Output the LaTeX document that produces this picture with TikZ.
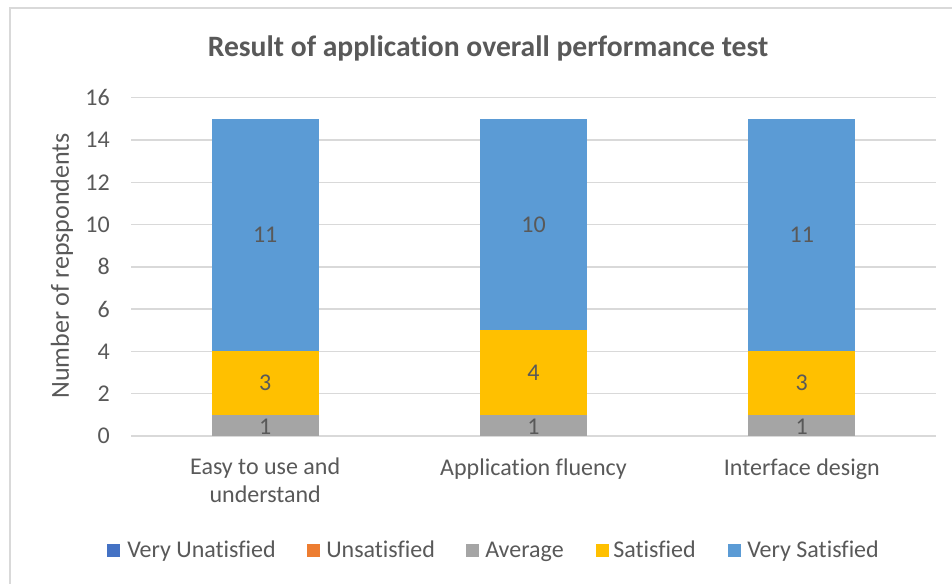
\documentclass[tikz,border=0pt]{standalone}
\usepackage{fontspec}
\setmainfont{Carlito}[Ligatures=NoCommon]
\definecolor{txt}{HTML}{595959}
\definecolor{gridc}{HTML}{D9D9D9}
\definecolor{cVU}{HTML}{4472C4}
\definecolor{cU}{HTML}{ED7D31}
\definecolor{cA}{HTML}{A5A5A5}
\definecolor{cS}{HTML}{FFC000}
\definecolor{cVS}{HTML}{5B9BD5}
\begin{document}
\begin{tikzpicture}[x=0.75pt,y=-0.75pt,
  bodyfont/.style={font=\fontsize{18}{21}\selectfont},
  lbl/.style={bodyfont, inner sep=0pt, text=txt},
  gridline/.style={draw=gridc, line width=1.1pt},
  legsq/.style={minimum width=9.75pt, minimum height=9.75pt, inner sep=0pt, draw=none}]
\useasboundingbox (0,0) rectangle (952,584);
\clip (0,0) rectangle (952,584);
\fill[white] (0,0) rectangle (952,584);
\draw[gridc, line width=1.1pt] (10,8) rectangle (990,620);
% title
\node[inner sep=0pt, text=txt, anchor=base, font=\fontsize{22.2}{26}\selectfont\bfseries] (title) at (488,57) {Result of application overall performance test};
% gridlines and tick labels
\foreach \k in {0,...,8} {
  \pgfmathtruncatemacro{\val}{2*\k}
  \draw[gridline] (131,{436-42.28*\k}) -- (936,{436-42.28*\k});
  \node[lbl, anchor=east] (tick\k) at (110,{436-42.28*\k}) {\val};
}
% axis title
\node[lbl, rotate=90, font=\fontsize{19.5}{23}\selectfont] (ytitle) at (62,266) {Number of repspondents};
% bars
\foreach \c/\n/\s/\v in {265.2/a/3/11, 533.5/b/4/10, 801.8/c/3/11} {
  \fill[cA] ({\c-53.5},436) rectangle ({\c+53.5},{436-21.14});
  \fill[cS] ({\c-53.5},{436-21.14}) rectangle ({\c+53.5},{436-21.14*(1+\s)});
  \fill[cVS] ({\c-53.5},{436-21.14*(1+\s)}) rectangle ({\c+53.5},{436-21.14*15});
  \node[lbl] (avg\n) at (\c,{436-21.14*0.5+1.5}) {1};
  \node[lbl] (sat\n) at (\c,{436-21.14*(1+\s/2)}) {\s};
  \node[lbl] (vsat\n) at (\c,{436-21.14*(1+\s+\v/2)}) {\v};
}
% category labels
\node[lbl, anchor=north, align=center] (cata) at (265.2,458) {Easy to use and\\understand};
\node[lbl, anchor=base] (catb) at (533.5,475) {Application fluency};
\node[lbl, anchor=base] (catc) at (801.8,475) {Interface design};
% legend
\node[legsq, fill=cVU] (lg1) at (113.5,550) {};
\node[lbl, anchor=base west] (lt1) at (127,557) {Very Unatisfied};
\node[legsq, fill=cU] (lg2) at (313.5,550) {};
\node[lbl, anchor=base west] (lt2) at (326,557) {Unsatisfied};
\node[legsq, fill=cA] (lg3) at (472.5,550) {};
\node[lbl, anchor=base west] (lt3) at (485,557) {Average};
\node[legsq, fill=cS] (lg4) at (602,550) {};
\node[lbl, anchor=base west] (lt4) at (613,557) {Satisfied};
\node[legsq, fill=cVS] (lg5) at (734.5,550) {};
\node[lbl, anchor=base west] (lt5) at (747,557) {Very Satisfied};
\end{tikzpicture}
\end{document}
